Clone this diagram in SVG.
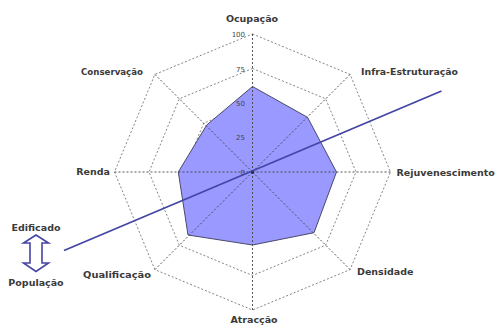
<svg xmlns="http://www.w3.org/2000/svg" width="496" height="325" viewBox="0 0 496 325">
<style>
.lbl{font-family:"DejaVu Sans",sans-serif;font-weight:bold;font-size:9.5px;fill:#3a3a3a}
.tick{font-family:"DejaVu Sans",sans-serif;font-size:7px;fill:#444}
.ring{fill:none;stroke:#666;stroke-width:0.8;stroke-dasharray:2,2}
.spoke{stroke:#444;stroke-width:0.9;stroke-dasharray:2,2}
</style>
<rect width="496" height="325" fill="#fff"/>
<g id="grid">
<polygon class="ring" points="252.5,34 350.1,74.4 390.5,172 350.1,269.6 252.5,310 154.9,269.6 114.5,172 154.9,74.4"/>
<polygon class="ring" points="252.5,68.5 325.7,98.8 356,172 325.7,245.2 252.5,275.5 179.3,245.2 149,172 179.3,98.8"/>
<polygon class="ring" points="252.5,103 301.3,123.2 321.5,172 301.3,220.8 252.5,241 203.7,220.8 183.5,172 203.7,123.2"/>
<polygon class="ring" points="252.5,137.5 276.9,147.6 287,172 276.9,196.4 252.5,206.5 228.1,196.4 218,172 228.1,147.6"/>
</g>
<g id="data">
<polygon points="252.5,86.5 307.5,117.3 336.5,172 314,232.7 252.5,245 188,235 178.3,172 206.7,125" fill="#9999ff" stroke="#4a4a6a" stroke-width="1"/>
</g>
<g id="spokes">
<line class="spoke" x1="252.5" y1="172" x2="252.5" y2="34"/>
<line class="spoke" x1="252.5" y1="172" x2="350.1" y2="74.4"/>
<line class="spoke" x1="252.5" y1="172" x2="390.5" y2="172"/>
<line class="spoke" x1="252.5" y1="172" x2="350.1" y2="269.6"/>
<line class="spoke" x1="252.5" y1="172" x2="252.5" y2="310"/>
<line class="spoke" x1="252.5" y1="172" x2="154.9" y2="269.6"/>
<line class="spoke" x1="252.5" y1="172" x2="114.5" y2="172"/>
<line class="spoke" x1="252.5" y1="172" x2="154.9" y2="74.4"/>
<rect x="251" y="170.5" width="3" height="3" fill="#222"/>
</g>
<g id="ticks">
<text class="tick" x="245" y="37" text-anchor="end">100</text>
<text class="tick" x="245" y="71.5" text-anchor="end">75</text>
<text class="tick" x="245" y="106" text-anchor="end">50</text>
<text class="tick" x="245" y="140" text-anchor="end">25</text>
<text class="tick" x="245" y="175" text-anchor="end">0</text>
</g>
<g id="connectors">
<line x1="64" y1="250.5" x2="441.5" y2="91" stroke="#4545a5" stroke-width="1.8"/>
</g>
<g id="labels">
<text class="lbl" x="252" y="21.5" text-anchor="middle">Ocupação</text>
<text class="lbl" x="361" y="75" textLength="97" lengthAdjust="spacingAndGlyphs">Infra-Estruturação</text>
<text class="lbl" x="396.5" y="176">Rejuvenescimento</text>
<text class="lbl" x="357" y="275">Densidade</text>
<text class="lbl" x="254" y="323" text-anchor="middle">Atracção</text>
<text class="lbl" x="83" y="278" textLength="68" lengthAdjust="spacingAndGlyphs">Qualificação</text>
<text class="lbl" x="110" y="175" text-anchor="end">Renda</text>
<text class="lbl" x="81" y="75" textLength="62" lengthAdjust="spacingAndGlyphs">Conservação</text>
</g>
<g id="legend">
<text class="lbl" x="36" y="231" text-anchor="middle">Edificado</text>
<path d="M36,235 L48.5,243 L42,243 L42,263 L48.5,263 L36,271.5 L23.5,263 L30,263 L30,243 L23.5,243 Z" fill="#fff" stroke="#4545a5" stroke-width="1.6" stroke-linejoin="miter"/>
<text class="lbl" x="36" y="286" text-anchor="middle">População</text>
</g>
</svg>
